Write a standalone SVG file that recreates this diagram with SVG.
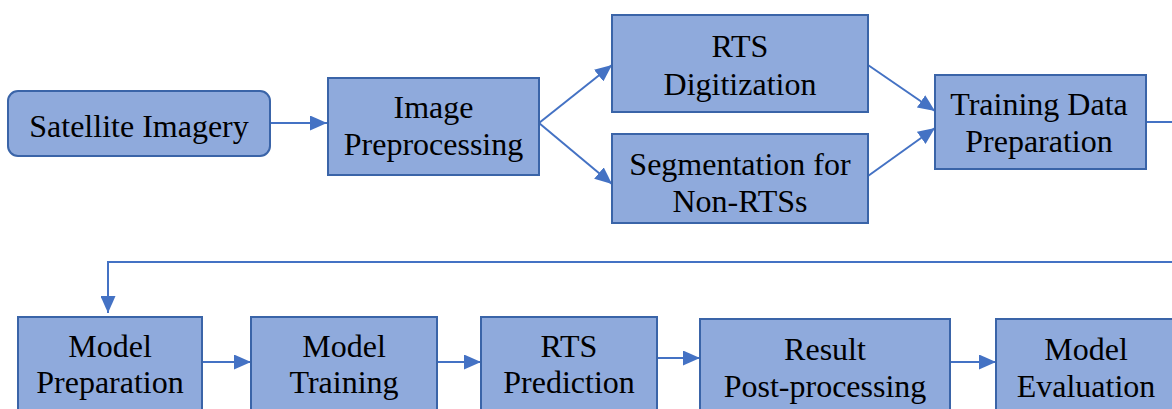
<svg xmlns="http://www.w3.org/2000/svg" width="1172" height="409" viewBox="0 0 1172 409">
  <defs>
    <marker id="arrow" viewBox="0 0 17 15" markerWidth="17" markerHeight="15" refX="17" refY="7.5" orient="auto" markerUnits="userSpaceOnUse">
      <path d="M0,0 L17,7.5 L0,15 z" fill="#4472C4"/>
    </marker>
  </defs>
  <rect width="1172" height="409" fill="#FFFFFF"/>

  <!-- connectors -->
  <g id="connectors" fill="none" stroke="#4472C4" stroke-width="2">
    <line x1="270" y1="123" x2="327" y2="123" marker-end="url(#arrow)"/>
    <line x1="539" y1="123" x2="612" y2="65" marker-end="url(#arrow)"/>
    <line x1="539" y1="123" x2="612" y2="184" marker-end="url(#arrow)"/>
    <line x1="868" y1="65" x2="935" y2="111" marker-end="url(#arrow)"/>
    <line x1="868" y1="176" x2="935" y2="128" marker-end="url(#arrow)"/>
    <path d="M1146,122 H1190 V262 H108 V313" marker-end="url(#arrow)"/>
    <line x1="202" y1="362" x2="251" y2="362" marker-end="url(#arrow)"/>
    <line x1="437" y1="362" x2="481" y2="362" marker-end="url(#arrow)"/>
    <line x1="657" y1="358" x2="700" y2="358" marker-end="url(#arrow)"/>
    <line x1="950" y1="362" x2="996" y2="362" marker-end="url(#arrow)"/>
  </g>

  <!-- node boxes -->
  <g id="nodes" fill="#8FAADC" stroke="#3A64A8" stroke-width="2">
    <g id="satellite-imagery"><rect x="8" y="91" width="262" height="65" rx="10"/></g>
    <g id="image-preprocessing"><rect x="328" y="78" width="211" height="97"/></g>
    <g id="rts-digitization"><rect x="612" y="15" width="256" height="97"/></g>
    <g id="segmentation"><rect x="612" y="134" width="256" height="89"/></g>
    <g id="training-data-preparation"><rect x="935" y="75" width="211" height="94"/></g>
    <g id="model-preparation"><rect x="18" y="317" width="184" height="110"/></g>
    <g id="model-training"><rect x="251" y="317" width="186" height="110"/></g>
    <g id="rts-prediction"><rect x="481" y="317" width="176" height="110"/></g>
    <g id="result-post-processing"><rect x="700" y="319" width="250" height="110"/></g>
    <g id="model-evaluation"><rect x="996" y="319" width="184" height="110"/></g>
  </g>

  <!-- node labels -->
  <text font-family="Liberation Serif" font-size="32" text-anchor="middle" x="139" y="137">Satellite Imagery</text>
  <text font-family="Liberation Serif" font-size="32" text-anchor="middle" x="433.5" y="118">Image</text>
  <text font-family="Liberation Serif" font-size="32" text-anchor="middle" x="433.5" y="155">Preprocessing</text>
  <text font-family="Liberation Serif" font-size="32" text-anchor="middle" x="740" y="57">RTS</text>
  <text font-family="Liberation Serif" font-size="32" text-anchor="middle" x="740" y="95">Digitization</text>
  <text font-family="Liberation Serif" font-size="32" text-anchor="middle" x="740" y="175">Segmentation for</text>
  <text font-family="Liberation Serif" font-size="32" text-anchor="middle" x="740" y="212">Non-RTSs</text>
  <text font-family="Liberation Serif" font-size="32" text-anchor="middle" x="1039" y="115">Training Data</text>
  <text font-family="Liberation Serif" font-size="32" text-anchor="middle" x="1039" y="152">Preparation</text>
  <text font-family="Liberation Serif" font-size="32" text-anchor="middle" x="110" y="357">Model</text>
  <text font-family="Liberation Serif" font-size="32" text-anchor="middle" x="110" y="393">Preparation</text>
  <text font-family="Liberation Serif" font-size="32" text-anchor="middle" x="344" y="357">Model</text>
  <text font-family="Liberation Serif" font-size="32" text-anchor="middle" x="344" y="393">Training</text>
  <text font-family="Liberation Serif" font-size="32" text-anchor="middle" x="569" y="357">RTS</text>
  <text font-family="Liberation Serif" font-size="32" text-anchor="middle" x="569" y="393">Prediction</text>
  <text font-family="Liberation Serif" font-size="32" text-anchor="middle" x="825" y="360">Result</text>
  <text font-family="Liberation Serif" font-size="32" text-anchor="middle" x="825" y="397">Post-processing</text>
  <text font-family="Liberation Serif" font-size="32" text-anchor="middle" x="1086" y="360">Model</text>
  <text font-family="Liberation Serif" font-size="32" text-anchor="middle" x="1086" y="397">Evaluation</text>
</svg>
